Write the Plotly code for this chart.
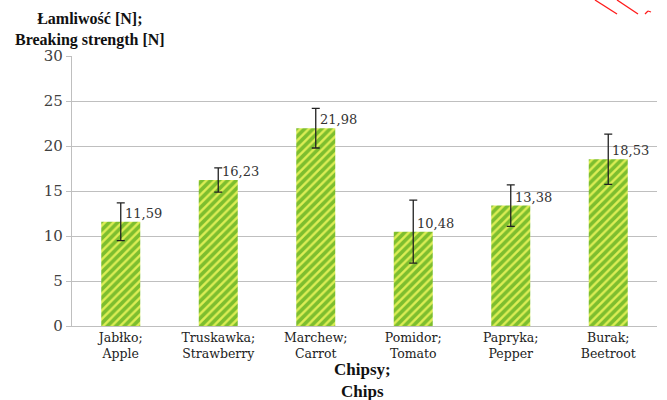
import plotly.graph_objects as go

categories = ["Jabłko;<br>Apple", "Truskawka;<br>Strawberry", "Marchew;<br>Carrot",
              "Pomidor;<br>Tomato", "Papryka;<br>Pepper", "Burak;<br>Beetroot"]
values = [11.59, 16.23, 21.98, 10.48, 13.38, 18.53]
errors = [2.1, 1.35, 2.2, 3.5, 2.3, 2.8]
value_labels = ["11,59", "16,23", "21,98", "10,48", "13,38", "18,53"]
y_ticks = [0, 5, 10, 15, 20, 25, 30]

W, H = 667, 400
L, R, T, B = 72, 10, 56, 74
pw, ph = W - L - R, H - T - B

SERIF = "DejaVu Serif, serif"
SERIF_B = "Liberation Serif, DejaVu Serif, serif"

def px(x):
    return (x - L) / pw

def py(y):
    return (H - B - y) / ph

fig = go.Figure()
fig.add_trace(go.Bar(
    x=categories, y=values,
    marker=dict(color="#7DBE2E",
                pattern=dict(shape="/", fgcolor="#7DBE2E", bgcolor="#DDEE55",
                             fgopacity=1, size=6, solidity=0.6),
                line=dict(width=0)),
    error_y=dict(type="data", array=errors, visible=True, color="#222222",
                 thickness=1.3, width=4),
    width=0.4,
))

for c, v, lab in zip(categories, values, value_labels):
    fig.add_annotation(x=c, y=v, text=lab, showarrow=False, xanchor="left",
                       yanchor="bottom", xshift=2, yshift=-1,
                       font=dict(family=SERIF, size=13, color="#333333"))

fig.add_annotation(x=px(90), y=py(30), xref="paper", yref="paper",
                   text="<b>Łamliwość [N];<br>Breaking strength [N]</b>", showarrow=False,
                   xanchor="center", yanchor="middle",
                   font=dict(family=SERIF_B, size=16, color="#111111"))
fig.add_annotation(x=px(362), y=py(380), xref="paper", yref="paper",
                   text="<b>Chipsy;<br>Chips</b>", showarrow=False,
                   xanchor="center", yanchor="middle",
                   font=dict(family=SERIF_B, size=17, color="#111111"))

# decorative red strokes at top right
for (x0, y0, x1, y1) in [(595, 0, 617, 14), (617, 0, 638, 14), (645, 14, 648, 11), (648, 11, 651, 12)]:
    fig.add_shape(type="line", xref="paper", yref="paper",
                  x0=px(x0), y0=py(y0), x1=px(x1), y1=py(y1),
                  line=dict(color="#FF1A1A", width=1.3))

fig.update_layout(
    width=W, height=H, margin=dict(l=L, r=R, t=T, b=B),
    paper_bgcolor="white", plot_bgcolor="white",
    showlegend=False, bargap=0.6,
    font=dict(family=SERIF, color="#333333"),
)
fig.update_xaxes(showline=True, linecolor="#BFBFBF", linewidth=1.3,
                 tickfont=dict(family=SERIF, size=12.5, color="#222222"), ticks="")
fig.update_yaxes(range=[0, 30], tickvals=y_ticks, showgrid=True, gridcolor="#BFBFBF",
                 gridwidth=1.3, showline=True, linecolor="#BFBFBF", linewidth=1.3,
                 ticks="outside", ticklen=5, tickcolor="#BFBFBF", zeroline=False,
                 tickfont=dict(family=SERIF, size=15, color="#404040"))

fig.write_html("out.html")
